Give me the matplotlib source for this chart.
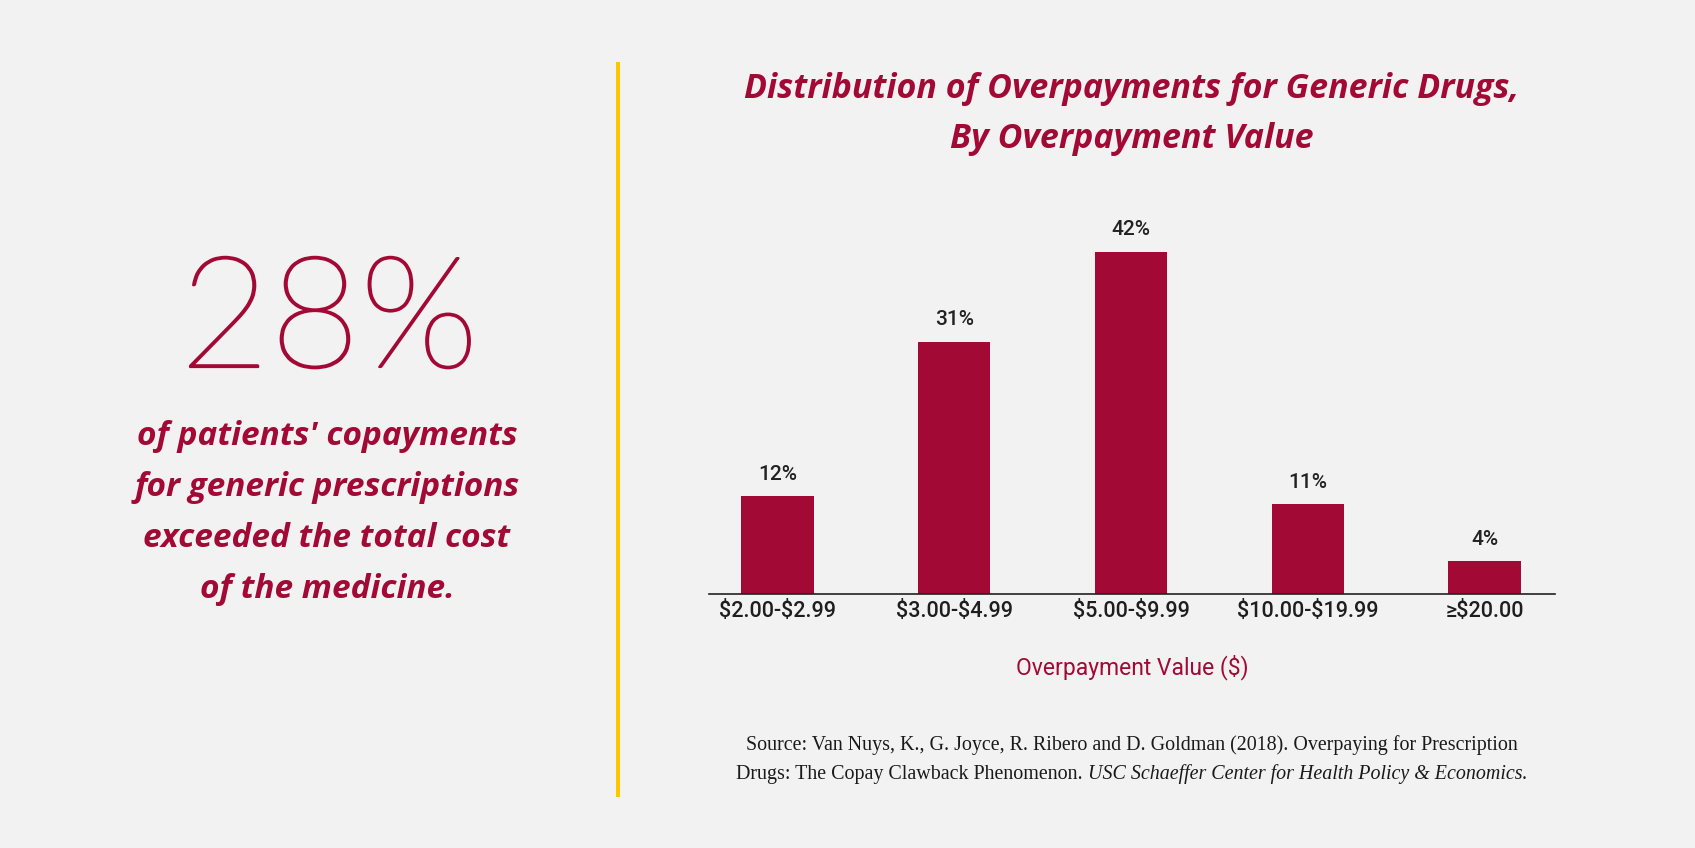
import matplotlib
matplotlib.use("Agg")
import matplotlib.pyplot as plt
import matplotlib.patheffects as pe
from matplotlib.lines import Line2D

categories = ["$2.00-$2.99", "$3.00-$4.99", "$5.00-$9.99", "$10.00-$19.99", "≥$20.00"]
values = [12, 31, 42, 11, 4]
value_labels = ["12%", "31%", "42%", "11%", "4%"]

title_lines = ["Distribution of Overpayments for Generic Drugs,", "By Overpayment Value"]
big_number = "28%"
side_lines = ["of patients' copayments", "for generic prescriptions",
              "exceeded the total cost", "of the medicine."]
xlabel = "Overpayment Value ($)"
source_line1 = "Source: Van Nuys, K., G. Joyce, R. Ribero and D. Goldman (2018). Overpaying for Prescription"
source_line2a = "Drugs: The Copay Clawback Phenomenon. "
source_line2b = "USC Schaeffer Center for Health Policy & Economics."

W, H = 1695, 848
BG = "#f2f2f2"
RED = "#a20a35"
YELLOW = "#ffc600"

def esc(s):
    return s.replace("$", r"\$")

fig = plt.figure(figsize=(W / 100, H / 100), dpi=100, facecolor=BG)

def fx(px):
    return px / W

def fy(py):
    return 1 - py / H

# chart axes
ax_left, ax_right = 709, 1555
base_y = 594
px_per_unit = 8.14
ymax = 50
top_y = base_y - ymax * px_per_unit
ax = fig.add_axes([fx(ax_left), fy(base_y), fx(ax_right - ax_left), (base_y - top_y) / H])
ax.set_facecolor(BG)
x = list(range(len(categories)))
ax.bar(x, values, width=0.41, color=RED, zorder=2)
ax.set_xlim(-0.387, 4.398)
ax.set_ylim(0, ymax)
for s in ["top", "right", "left"]:
    ax.spines[s].set_visible(False)
ax.spines["bottom"].set_color("#222222")
ax.spines["bottom"].set_linewidth(1.2)
ax.set_yticks([])
ax.set_xticks(x)
ax.set_xticklabels([esc(c) for c in categories], fontsize=15.5, color="#1e1e1e",
                   family="Roboto", fontweight="medium")
ax.tick_params(axis="x", length=0, pad=5)
for xi, v, lab in zip(x, values, value_labels):
    ax.annotate(lab, (xi, v), xytext=(0, 16), textcoords="offset points",
                ha="center", va="center", fontsize=15, color="#222222",
                family="Roboto", fontweight="medium")

# title
for i, line in enumerate(title_lines):
    fig.text(fx(1132), fy(89 + 50 * i), line, ha="center", va="center",
             fontsize=24.5, fontweight="bold", fontstyle="italic", color=RED, family="Open Sans")

# x label
fig.text(fx(1132), fy(667), esc(xlabel), ha="center", va="center", fontsize=16.5,
         color=RED, family="Roboto")

# yellow divider
fig.add_artist(Line2D([fx(618), fx(618)], [fy(64), fy(795)], color=YELLOW, lw=2.9,
                      transform=fig.transFigure))

# left side
fig.text(fx(329), fy(367), big_number, ha="center", va="baseline", fontsize=112,
         fontweight=200, color=RED, family="Lato",
         path_effects=[pe.withStroke(linewidth=1.6, foreground=RED)])
for i, line in enumerate(side_lines):
    fig.text(fx(327), fy(436 + 51.3 * i), line, ha="center", va="center", fontsize=24,
             fontweight="bold", fontstyle="italic", color=RED, family="Open Sans")

# source
fig.text(fx(1132), fy(745), source_line1, ha="center", va="center", fontsize=14.4,
         color="#1a1a1a", family="Liberation Serif")
r = fig.canvas.get_renderer()
t_a = fig.text(0, fy(774), source_line2a, ha="left", va="center", fontsize=14.4,
               color="#1a1a1a", family="Liberation Serif")
t_b = fig.text(0, fy(774), source_line2b, ha="left", va="center", fontsize=14.4,
               color="#1a1a1a", family="Liberation Serif", fontstyle="italic")
wa = t_a.get_window_extent(r).width
wb = t_b.get_window_extent(r).width
start = 1132 - (wa + wb) / 2
t_a.set_x(fx(start))
t_b.set_x(fx(start + wa))

fig.savefig("out.png", dpi=100, facecolor=BG)
